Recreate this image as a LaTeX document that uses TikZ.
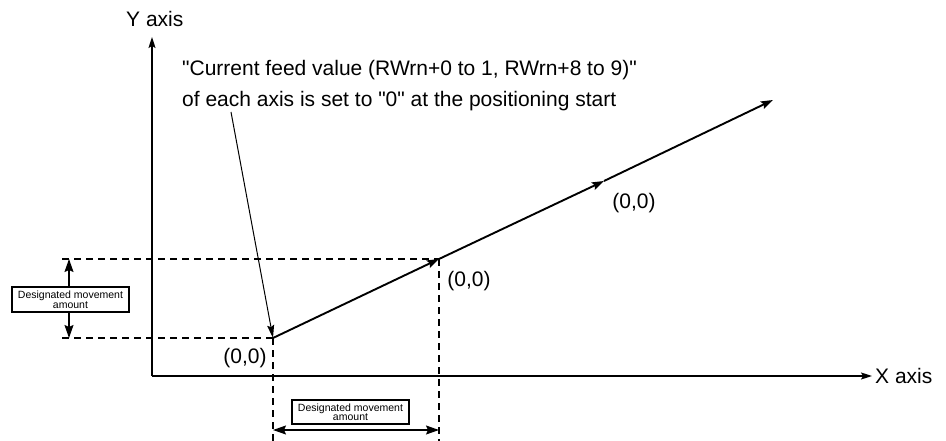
\documentclass[tikz,border=0pt]{standalone}
\usepackage{fontspec}
\setmainfont{Liberation Sans}
\usetikzlibrary{arrows.meta}
\begin{document}
\begin{tikzpicture}[x=1pt,y=-1pt,
  axisline/.style={line width=1.3pt,-{Stealth[length=11pt,width=7pt,inset=2pt]}},
  traj/.style={line width=1.9pt,-{Stealth[length=12pt,width=8pt,inset=2pt]}},
  guide/.style={line width=1.1pt,dash pattern=on 7pt off 5pt},
  dimarrow/.style={line width=1.3pt,-{Stealth[length=13pt,width=9pt,inset=2pt]}},
  leader/.style={line width=1pt,-{Stealth[length=13pt,width=7pt,inset=2pt]}},
  bigtext/.style={font=\fontsize{21}{31}\selectfont},
  smallbox/.style={draw,line width=1.3pt,inner sep=0pt,minimum width=117pt,minimum height=25pt,align=center,font=\fontsize{10.5}{9.5}\selectfont}
]
\useasboundingbox (0,0) rectangle (946,441);
% key points
\coordinate (O) at (152,376);
\coordinate (Ytip) at (152,37);
\coordinate (Xtip) at (872,376);
\coordinate (A) at (273,338);
\coordinate (B) at (439,259);
\coordinate (C) at (604,181);
\coordinate (D) at (773,100);
\coordinate (Lstart) at (231,112);
\coordinate (GL1) at (62,338);
\coordinate (GL2) at (62,259);
\coordinate (GB1) at (273,441);
\coordinate (GB2) at (439,441);
\coordinate (DimL) at (273,430);
\coordinate (DimR) at (439,430);
% axes
\draw[axisline] (O) -- (Ytip);
\draw[axisline] (O) -- (Xtip);
\node[bigtext,anchor=base west,inner sep=0pt] (ylab) at (126,27) {Y axis};
\node[bigtext,anchor=base west,inner sep=0pt] (xlab) at (875,383) {X axis};
% guide lines
\draw[guide] (GL1) -- (A);
\draw[guide] (GL2) -- (B);
\draw[guide] (A) -- (GB1);
\draw[guide] (B) -- (GB2);
% trajectory
\draw[traj] (A) -- (B);
\draw[traj] (B) -- (C);
\draw[traj] (C) -- (D);
% labels
\node[bigtext,anchor=base,inner sep=0pt] (la) at (245,363) {(0,0)};
\node[bigtext,anchor=base,inner sep=0pt] (lb) at (469,287) {(0,0)};
\node[bigtext,anchor=base,inner sep=0pt] (lc) at (634,208) {(0,0)};
% note
\node[bigtext,anchor=base west,inner sep=0pt,align=left] (note) at (182,107)
  {\textquotedbl Current feed value (RWrn+0 to 1, RWrn+8 to 9)\textquotedbl\\of each axis is set to \textquotedbl 0\textquotedbl{} at the positioning start};
\draw[leader] (Lstart) -- (A);
% left dimension
\node[smallbox] (lbox) at (70.5,299.5) {Designated movement\\amount};
\draw[dimarrow] (lbox.north -| 69,0) -- (69,259);
\draw[dimarrow] (lbox.south -| 69,0) -- (69,338);
% bottom dimension
\node[smallbox,minimum height=24pt] (bbox) at (350.5,412) {Designated movement\\amount};
\draw[dimarrow,{Stealth[length=13pt,width=9pt,inset=2pt]}-{Stealth[length=13pt,width=9pt,inset=2pt]}] (DimL) -- (DimR);
\end{tikzpicture}
\end{document}
